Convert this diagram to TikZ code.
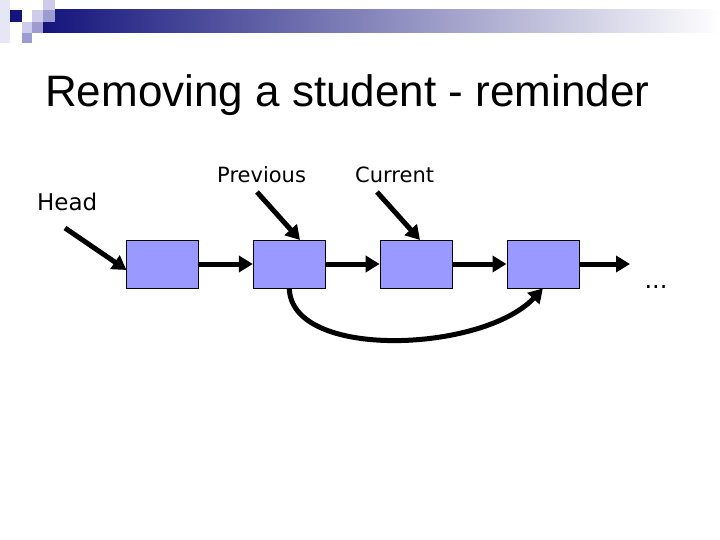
\documentclass[tikz,border=0pt]{standalone}
\usepackage{fontspec}
\setmainfont{Liberation Sans}
\newfontfamily\labelfont{DejaVu Sans}
\usepackage{tikz}
\usetikzlibrary{arrows.meta, positioning}
\usepackage{xcolor}

\definecolor{cellblue}{HTML}{9999FF}
\definecolor{navyhead}{HTML}{14147C}
\definecolor{midlav}{HTML}{9C9CD0}
\definecolor{lightlav}{HTML}{CDCDEB}
\definecolor{paler}{HTML}{E6E6F4}
\definecolor{bargrey}{HTML}{A4A4BC}

\begin{document}
\begin{tikzpicture}[
        x=1pt, y=-1pt,
        node distance=54pt,
        cell/.style={draw, fill=cellblue, minimum width=72pt, minimum height=48pt, inner sep=0pt, line width=0.8pt},
        arrow/.style={-{Triangle[length=14pt, width=16pt]}, line width=5pt},
        tag/.style={anchor=base west, inner sep=0pt, font=\labelfont\fontsize{21}{25}\selectfont}
    ]
    \useasboundingbox (0,0) rectangle (720,540);
    % header decoration
    \shade[left color=navyhead, middle color=bargrey, right color=white] (43,10) rectangle (720,33);
    \fill[paler] (0,0) rectangle (10,43);
    \fill[lightlav] (43,0) rectangle (55,10);
    \fill[navyhead] (10,10) rectangle (22,22);
    \fill[lightlav] (32,10) rectangle (43,22);
    \fill[midlav] (43,10) rectangle (55,22);
    \fill[lightlav] (22,22) rectangle (32,33);
    \fill[midlav] (32,22) rectangle (43,33);
    \fill[midlav] (22,33) rectangle (32,43);
    \node[anchor=base west, inner sep=0pt, font=\fontsize{44}{50}\selectfont] (title) at (45,107) {Removing a student - reminder};
    % list
    \node[cell] (n1) at (162.5,264) {};
    \node[cell, right=of n1] (n2) {};
    \node[cell, right=of n2] (n3) {};
    \node[cell, right=of n3] (n4) {};
    \coordinate (tail) at (630,264);
    \node[tag, anchor=base, font=\labelfont\fontsize{24}{28}\selectfont] (dots) at (656,288) {...};
    \node[tag, font=\labelfont\fontsize{23}{27}\selectfont] (head) at (37,211) {Head};
    \node[tag] (prev) at (217,183) {Previous};
    \node[tag] (curr) at (355,183) {Current};
    \coordinate (headfrom) at (65,228);
    \coordinate (headto) at (126.5,270);
    \coordinate (prevfrom) at (257,192);
    \coordinate (prevto) at (300,240);
    \coordinate (currfrom) at (377,192);
    \coordinate (currto) at (420,240);
    \draw[arrow] (headfrom) -- (headto);
    \draw[arrow] (prevfrom) -- (prevto);
    \draw[arrow] (currfrom) -- (currto);
    \draw[arrow] (n1) -- (n2);
    \draw[arrow] (n2) -- (n3);
    \draw[arrow] (n3) -- (n4);
    \draw[arrow] (n4) -- (tail);
    \draw[arrow] (n2.south) .. controls +(2,72) and +(-60,64) .. (n4.south);
\end{tikzpicture}
\end{document}
